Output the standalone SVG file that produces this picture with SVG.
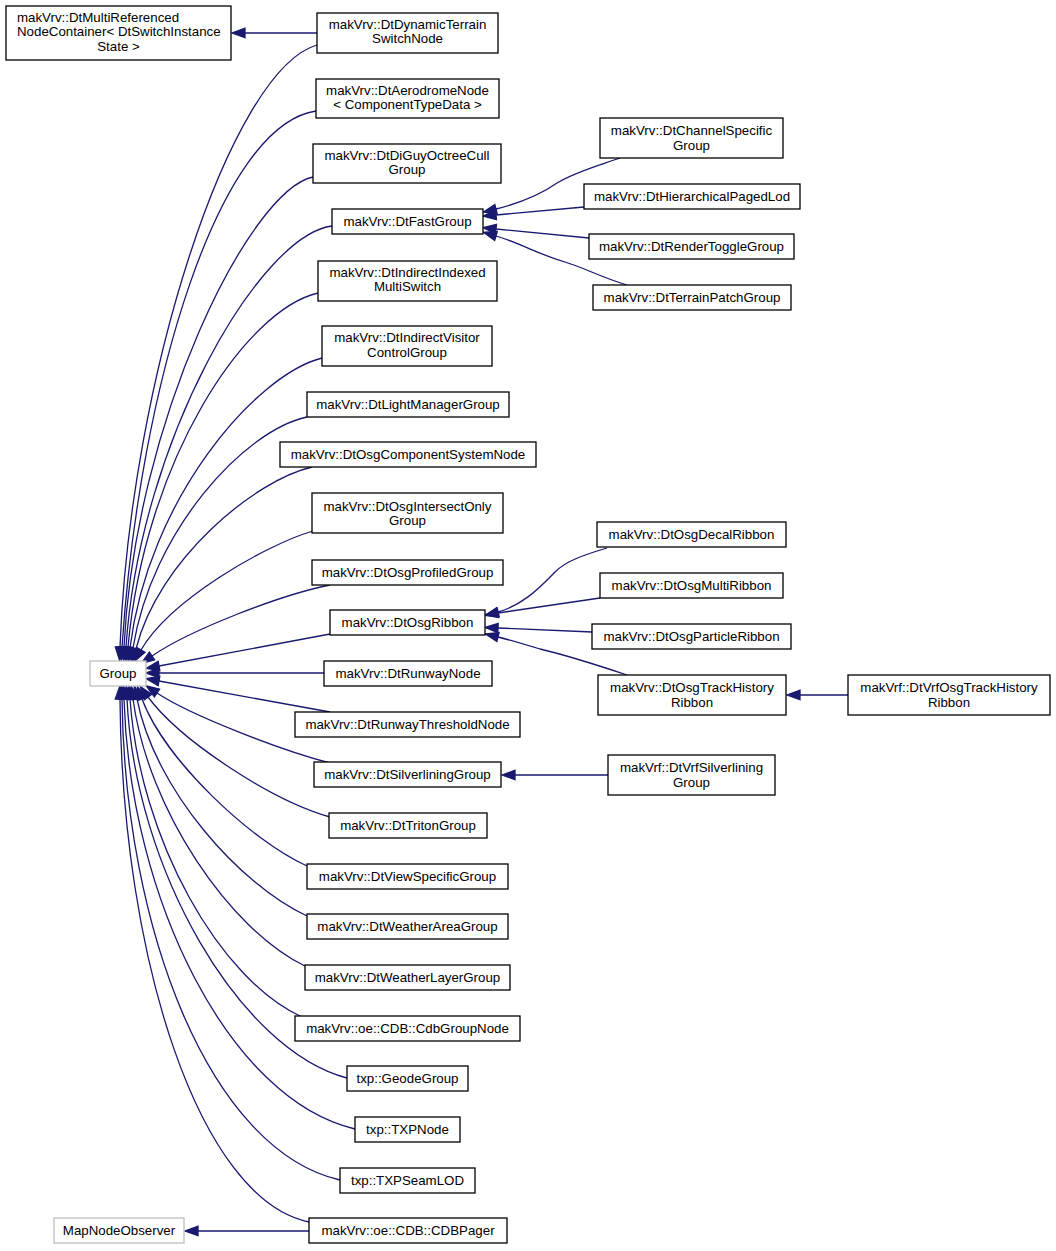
<svg xmlns="http://www.w3.org/2000/svg" width="1056" height="1251" viewBox="0 0 1056 1251">
<style>
.n rect{fill:#fff;stroke:#000;stroke-width:1.3}
.g rect{fill:#fff;stroke:#bfbfbf;stroke-width:1.3}
text{font-family:"Liberation Sans",Arial,Helvetica,sans-serif;font-size:13.3px;fill:#000;text-anchor:middle}
.l{text-anchor:start}
#edges path{fill:none;stroke:#191970;stroke-width:1.3;marker-end:url(#arr)}
</style>
<defs>
<marker id="arr" markerUnits="userSpaceOnUse" markerWidth="14" markerHeight="10" refX="0" refY="5" orient="auto" viewBox="0 0 14 10" overflow="visible"><path d="M0,0.3 L13,5 L0,9.7 z" fill="#191970" stroke="#191970" stroke-width="1.3"/></marker>
</defs>
<rect width="1056" height="1251" fill="#fff"/>
<g id="edges">
<path d="M317,33 L245,33"/>
<path d="M317,45 C230,70 130,380 120,647"/>
<path d="M316,111 C220,125 140,380 122,647"/>
<path d="M313,177 C250,190 135,420 124,647"/>
<path d="M332,226 C260,235 140,440 126,647"/>
<path d="M318,293 C245,310 145,460 128,647"/>
<path d="M322,358 C255,375 148,500 130,648"/>
<path d="M307,417 C245,430 152,530 133,648"/>
<path d="M312,467 C255,480 158,560 136,649"/>
<path d="M313,531 C265,545 170,600 141,650"/>
<path d="M330,585 C280,595 190,630 152,656"/>
<path d="M330,634 L159,666"/>
<path d="M324,673 L159,673"/>
<path d="M330,712 L159,681"/>
<path d="M330,763 C280,750 190,715 157,693"/>
<path d="M330,817 C270,800 180,740 148,697"/>
<path d="M307,866 C250,840 165,760 142,699"/>
<path d="M307,916 C240,885 155,790 137,699"/>
<path d="M305,966 C230,930 148,810 133,699"/>
<path d="M302,1017 C220,980 140,840 130,699"/>
<path d="M347,1078 C240,1050 135,870 127,699"/>
<path d="M355,1129 C230,1100 130,900 124,699"/>
<path d="M340,1180 C210,1150 125,930 122,699"/>
<path d="M309,1222 C200,1200 122,960 120,699"/>
<path d="M309,1231 L198,1231"/>
<path d="M620,158 C597,166 575,172 557,183 C540,195 520,203 496,209"/>
<path d="M584,207 L496,215"/>
<path d="M589,238 L496,229"/>
<path d="M627,285 C600,277 585,268 565,262 C540,255 520,243 496,236"/>
<path d="M607,548 C580,556 565,562 555,572 C537,591 520,606 498,612"/>
<path d="M600,598 L498,613"/>
<path d="M592,632 L498,628"/>
<path d="M627,675 C600,666 570,656 540,649 C520,643 510,640 498,637"/>
<path d="M848,695 L800,695"/>
<path d="M608,775 L515,775"/>
</g>
<g id="n_multiref" class="n"><rect x="6" y="6" width="225" height="54"/><text class="l" x="17" y="21.5">makVrv::DtMultiReferenced</text><text class="l" x="17" y="36">NodeContainer&lt; DtSwitchInstance</text><text x="118.5" y="50.5">State &gt;</text></g>
<g id="n_dynterrain" class="n"><rect x="317" y="13" width="181" height="40"/><text x="407.5" y="28.5">makVrv::DtDynamicTerrain</text><text x="407.5" y="43">SwitchNode</text></g>
<g id="n_aerodrome" class="n"><rect x="316" y="79" width="183" height="39"/><text x="407.5" y="94.5">makVrv::DtAerodromeNode</text><text x="407.5" y="109">&lt; ComponentTypeData &gt;</text></g>
<g id="n_diguy" class="n"><rect x="313" y="144" width="188" height="39"/><text x="407" y="159.5">makVrv::DtDiGuyOctreeCull</text><text x="407" y="174">Group</text></g>
<g id="n_fastgroup" class="n"><rect x="332" y="209" width="151" height="25"/><text x="407.5" y="226">makVrv::DtFastGroup</text></g>
<g id="n_indidx" class="n"><rect x="318" y="261" width="179" height="40"/><text x="407.5" y="276.5">makVrv::DtIndirectIndexed</text><text x="407.5" y="291">MultiSwitch</text></g>
<g id="n_indvis" class="n"><rect x="322" y="326" width="170" height="40"/><text x="407" y="342">makVrv::DtIndirectVisitor</text><text x="407" y="356.5">ControlGroup</text></g>
<g id="n_lightmgr" class="n"><rect x="307" y="392" width="202" height="25"/><text x="408" y="409">makVrv::DtLightManagerGroup</text></g>
<g id="n_osgcomp" class="n"><rect x="280" y="442" width="256" height="25"/><text x="408" y="459">makVrv::DtOsgComponentSystemNode</text></g>
<g id="n_osgintersect" class="n"><rect x="312" y="493" width="191" height="40"/><text x="407.5" y="510.5">makVrv::DtOsgIntersectOnly</text><text x="407.5" y="525">Group</text></g>
<g id="n_osgprofiled" class="n"><rect x="312" y="560" width="191" height="25"/><text x="407.5" y="577">makVrv::DtOsgProfiledGroup</text></g>
<g id="n_osgribbon" class="n"><rect x="330" y="610" width="155" height="25"/><text x="407.5" y="627">makVrv::DtOsgRibbon</text></g>
<g id="n_group" class="g"><rect x="90" y="661" width="56" height="25"/><text x="118" y="678">Group</text></g>
<g id="n_runway" class="n"><rect x="324" y="661" width="168" height="25"/><text x="408" y="678">makVrv::DtRunwayNode</text></g>
<g id="n_runwaythr" class="n"><rect x="295" y="712" width="225" height="25"/><text x="407.5" y="729">makVrv::DtRunwayThresholdNode</text></g>
<g id="n_silverlining" class="n"><rect x="314" y="762" width="187" height="25"/><text x="407.5" y="779">makVrv::DtSilverliningGroup</text></g>
<g id="n_triton" class="n"><rect x="329" y="813" width="158" height="25"/><text x="408" y="830">makVrv::DtTritonGroup</text></g>
<g id="n_viewspec" class="n"><rect x="307" y="864" width="201" height="25"/><text x="407.5" y="881">makVrv::DtViewSpecificGroup</text></g>
<g id="n_weatherarea" class="n"><rect x="307" y="914" width="201" height="25"/><text x="407.5" y="931">makVrv::DtWeatherAreaGroup</text></g>
<g id="n_weatherlayer" class="n"><rect x="305" y="965" width="205" height="25"/><text x="407.5" y="982">makVrv::DtWeatherLayerGroup</text></g>
<g id="n_cdbgroup" class="n"><rect x="295" y="1016" width="225" height="25"/><text x="407.5" y="1033">makVrv::oe::CDB::CdbGroupNode</text></g>
<g id="n_geode" class="n"><rect x="347" y="1066" width="121" height="25"/><text x="407.5" y="1083">txp::GeodeGroup</text></g>
<g id="n_txpnode" class="n"><rect x="355" y="1117" width="105" height="25"/><text x="407.5" y="1134">txp::TXPNode</text></g>
<g id="n_txpseam" class="n"><rect x="340" y="1168" width="135" height="25"/><text x="407.5" y="1185">txp::TXPSeamLOD</text></g>
<g id="n_cdbpager" class="n"><rect x="309" y="1218" width="198" height="25"/><text x="408" y="1235">makVrv::oe::CDB::CDBPager</text></g>
<g id="n_mapobs" class="g"><rect x="54" y="1218" width="130" height="25"/><text x="119" y="1235">MapNodeObserver</text></g>
<g id="n_channel" class="n"><rect x="600" y="118" width="183" height="40"/><text x="691.5" y="135">makVrv::DtChannelSpecific</text><text x="691.5" y="149.5">Group</text></g>
<g id="n_hierlod" class="n"><rect x="584" y="184" width="216" height="25"/><text x="692" y="201">makVrv::DtHierarchicalPagedLod</text></g>
<g id="n_rendertoggle" class="n"><rect x="589" y="234" width="205" height="25"/><text x="691.5" y="251">makVrv::DtRenderToggleGroup</text></g>
<g id="n_terrainpatch" class="n"><rect x="593" y="285" width="198" height="25"/><text x="692" y="302">makVrv::DtTerrainPatchGroup</text></g>
<g id="n_decal" class="n"><rect x="597" y="522" width="189" height="25"/><text x="691.5" y="539">makVrv::DtOsgDecalRibbon</text></g>
<g id="n_multiribbon" class="n"><rect x="600" y="573" width="183" height="25"/><text x="691.5" y="590">makVrv::DtOsgMultiRibbon</text></g>
<g id="n_particle" class="n"><rect x="592" y="624" width="199" height="25"/><text x="691.5" y="641">makVrv::DtOsgParticleRibbon</text></g>
<g id="n_trackhist" class="n"><rect x="598" y="675" width="188" height="40"/><text x="692" y="692">makVrv::DtOsgTrackHistory</text><text x="692" y="706.5">Ribbon</text></g>
<g id="n_vrftrack" class="n"><rect x="848" y="675" width="202" height="40"/><text x="949" y="692">makVrf::DtVrfOsgTrackHistory</text><text x="949" y="706.5">Ribbon</text></g>
<g id="n_vrfsilver" class="n"><rect x="608" y="755" width="167" height="40"/><text x="691.5" y="772">makVrf::DtVrfSilverlining</text><text x="691.5" y="786.5">Group</text></g>
</svg>
